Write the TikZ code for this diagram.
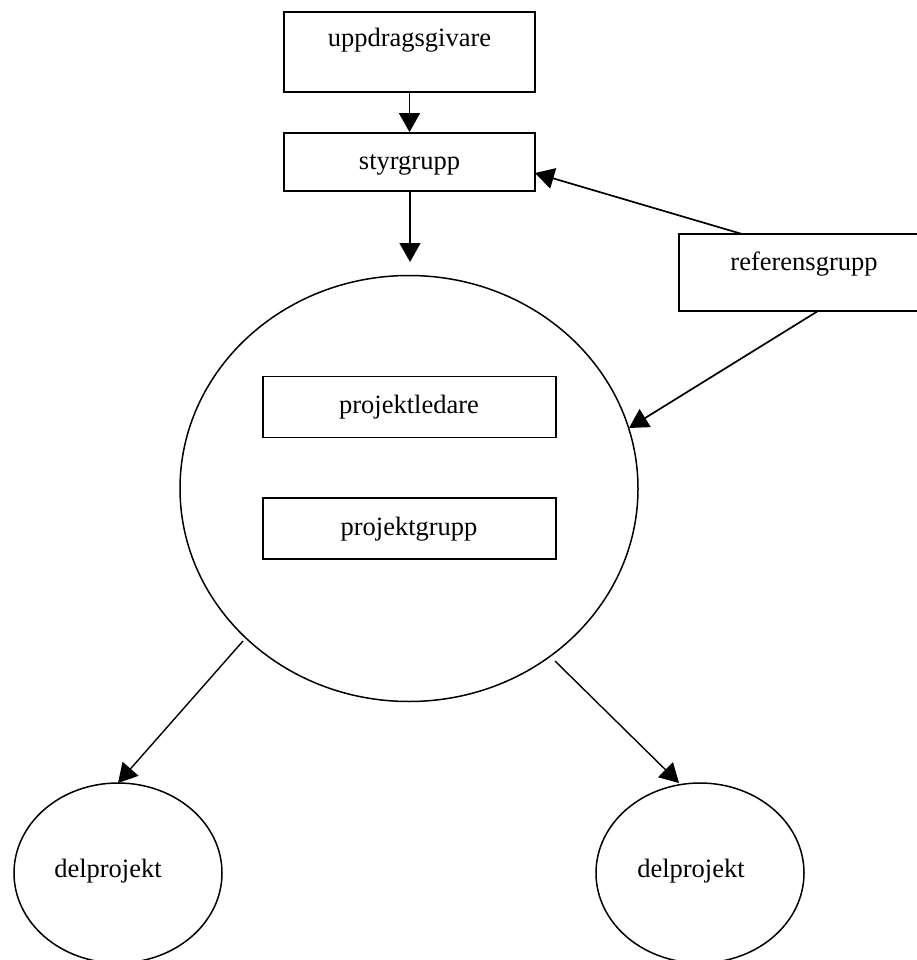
\documentclass[tikz,border=0pt]{standalone}
\usepackage{fontspec}
\setmainfont{Liberation Serif}
\usetikzlibrary{arrows.meta,shapes.geometric}
\begin{document}
\begin{tikzpicture}[x=1pt,y=-1pt,
  box/.style={draw,line width=1.8pt,rectangle,inner sep=0pt},
  oval/.style={draw,line width=1.5pt,ellipse,inner sep=0pt},
  lbl/.style={anchor=base,font=\fontsize{26.5}{30}\selectfont,inner sep=0pt},
  arr/.style={line width=1.7pt,-{Triangle[length=19pt,width=21pt]}},
  arrthin/.style={line width=1.4pt,-{Triangle[length=19pt,width=21pt]}}]
\useasboundingbox (0,0) rectangle (917,960);
\fill[white] (0,0) rectangle (917,960);
\begin{scope}
\clip (0,0) rectangle (917,960);
% boxes
\node[box,minimum width=251pt,minimum height=80pt] (upp) at (409.5,52) {};
\node[box,minimum width=251pt,minimum height=58pt] (styr) at (409.5,162) {};
\node[box,minimum width=241pt,minimum height=77pt] (ref) at (799.5,272.5) {};
\node[oval,minimum width=458pt,minimum height=426pt] (big) at (409,488.5) {};
\node[box,minimum width=293pt,minimum height=61pt] (pl) at (409.5,407) {};
\node[box,minimum width=293pt,minimum height=61pt] (pg) at (409.5,528.5) {};
\node[oval,minimum width=208pt,minimum height=180pt] (dl) at (118,873) {};
\node[oval,minimum width=208pt,minimum height=180pt] (dr) at (700,873) {};
% labels
\node[lbl] (tupp) at (409.5,47) {uppdragsgivare};
\node[lbl] (tstyr) at (409.5,170) {styrgrupp};
\node[lbl] (tref) at (804,270) {referensgrupp};
\node[lbl] (tpl) at (409,413) {projektledare};
\node[lbl] (tpg) at (409,535) {projektgrupp};
\node[lbl] (tdl) at (108,877) {delprojekt};
\node[lbl] (tdr) at (691,877) {delprojekt};
% connector helper coordinates
\coordinate (refA) at (742,234);
\coordinate (styrR) at (535,173);
\coordinate (refB) at (818,311);
\coordinate (bigR) at (629,428);
\coordinate (bigBL) at (243,641);
\coordinate (bigBR) at (555,661);
\coordinate (dlT) at (118,783);
\coordinate (drT) at (679,783);
\coordinate (styrB) at (410,191);
\coordinate (bigT) at (410,262);
% connectors
\draw[arr] (upp.south) -- (styr.north);
\draw[arr] (styrB) -- (bigT);
\draw[arr] (refA) -- (styrR);
\draw[arr] (refB) -- (bigR);
\draw[arrthin] (bigBL) -- (dlT);
\draw[arrthin] (bigBR) -- (drT);
\end{scope}
\end{tikzpicture}
\end{document}
